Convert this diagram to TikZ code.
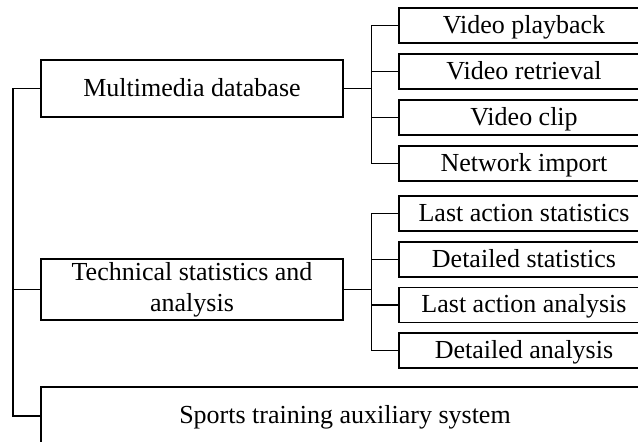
\documentclass[tikz,border=0pt]{standalone}
\usepackage{fontspec}
\setmainfont{Liberation Serif}
\newcommand\fixht{\rule[-4.5pt]{0pt}{25.5pt}}

\begin{document}
\begin{tikzpicture}[x=1pt,y=-1pt,line width=1.2pt,
    box/.style={draw,rectangle,inner sep=0pt,align=center,font=\fontsize{26}{31}\selectfont,
        execute at begin node=\fixht,execute at end node=\fixht},
    mainbox/.style={box,minimum width=302pt},
    subbox/.style={box,minimum width=250pt,minimum height=35pt}]
    \useasboundingbox (0,0) rectangle (638,442);
    \clip (0,0) rectangle (638,442);

    % main modules
    \node[mainbox,minimum height=57pt] (mmdb) at (192,88.5) {Multimedia database};
    \node[mainbox,minimum height=61pt] (tsa) at (192,289.5) {Technical statistics and\\analysis};
    \node[box,minimum width=608pt,minimum height=58pt] (sts) at (345,416) {Sports training auxiliary system};

    % sub modules
    \node[subbox] (v1) at (524,25.5) {Video playback};
    \node[subbox] (v2) at (524,71.5) {Video retrieval};
    \node[subbox] (v3) at (524,117.5) {Video clip};
    \node[subbox] (v4) at (524,163.5) {Network import};

    \node[subbox] (s1) at (524,213.5) {Last action statistics};
    \node[subbox] (s2) at (524,259.5) {Detailed statistics};
    \node[subbox] (s3) at (524,305) {Last action analysis};
    \node[subbox] (s4) at (524,350.5) {Detailed analysis};

    % tree lines
    \coordinate (lspine) at (13,88.5);
    \draw (mmdb.west) -- (lspine) |- (sts.west);
    \draw (lspine) |- (tsa.west);

    \foreach \c in {v1,v2,v3,v4}
        \draw (mmdb.east) -- ++(28,0) |- (\c.west);
    \foreach \c in {s1,s2,s3,s4}
        \draw (tsa.east) -- ++(28,0) |- (\c.west);
\end{tikzpicture}
\end{document}
